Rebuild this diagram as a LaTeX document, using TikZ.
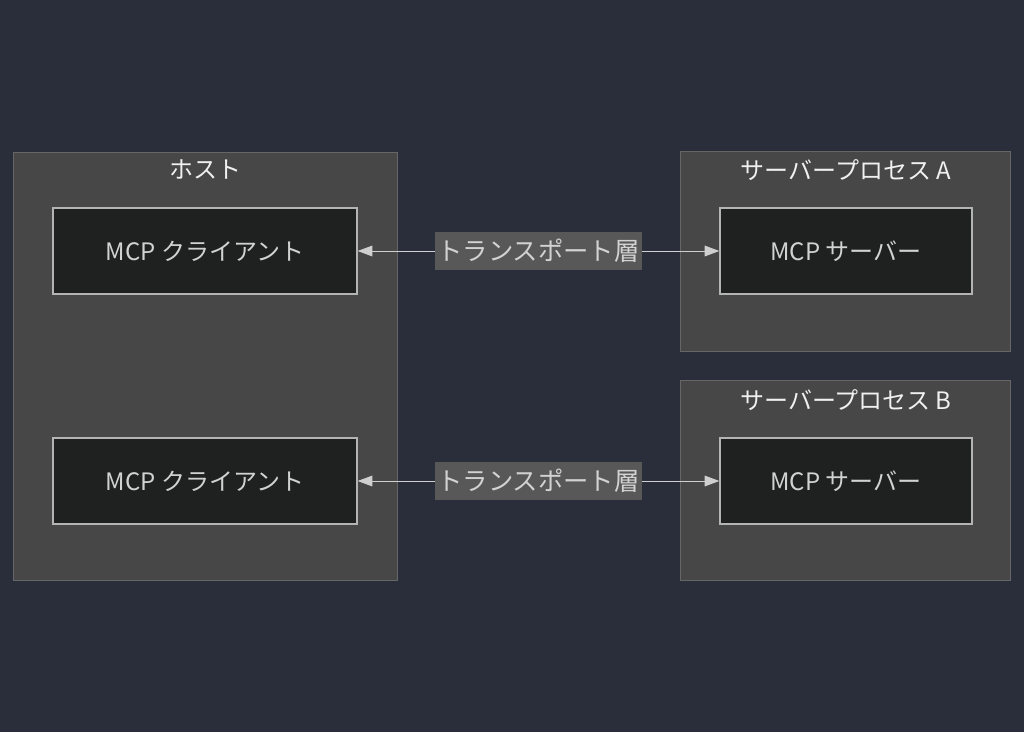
\documentclass[tikz,border=0pt]{standalone}
\usepackage{fontspec}
\setmainfont{Noto Sans CJK JP}
\usepackage{xcolor}
\usetikzlibrary{arrows.meta,positioning}

\definecolor{bgcol}{HTML}{2A2E3B}
\definecolor{grpfill}{HTML}{474747}
\definecolor{grpline}{HTML}{666666}
\definecolor{boxfill}{HTML}{1F2020}
\definecolor{boxline}{HTML}{B4B4B4}
\definecolor{boxtext}{HTML}{D2D2D2}
\definecolor{lblfill}{HTML}{585858}
\definecolor{edgecol}{HTML}{CFCFCF}

\begin{document}
\begin{tikzpicture}[x=0.75pt,y=-0.75pt,>={Triangle[length=11pt,width=8pt]},font=\fontsize{18pt}{22pt}\selectfont]
\tikzstyle{grp}=[draw=grpline,fill=grpfill,line width=0.75pt,inner sep=0pt]
\tikzstyle{grptitle}=[text=white!94!black,inner sep=0pt]
\tikzstyle{box}=[draw=boxline,fill=boxfill,text=boxtext,line width=1pt,minimum height=64.5pt,inner sep=0pt]
\tikzstyle{link}=[<->,draw=edgecol,fill=edgecol,line width=0.75pt]
\tikzstyle{lbl}=[fill=lblfill,text=boxtext,font=\fontsize{19pt}{22pt}\selectfont,inner xsep=2pt,inner ysep=0pt,minimum height=28.5pt]
\fill[bgcol] (0,0) rectangle (1024,732);
% groups
\node[grp,minimum width=288pt,minimum height=321pt] (host) at (205,366) {};
\node[grp,minimum width=248pt,minimum height=150pt] (procA) at (845.5,251) {};
\node[grp,minimum width=248pt,minimum height=150pt] (procB) at (845.5,480.5) {};
\node[grptitle] (hostT) at (205,169) {ホスト};
\node[grptitle] (procAT) at (846,170) {サーバープロセス A};
\node[grptitle] (procBT) at (846,400) {サーバープロセス B};
% clients and servers
\node[box,minimum width=228pt] (cli1) at (205,251) {MCP クライアント};
\node[box,minimum width=228pt] (cli2) at (205,481) {MCP クライアント};
\node[box,minimum width=189pt] (srv1) at (846,251) {MCP サーバー};
\node[box,minimum width=189pt] (srv2) at (846,481) {MCP サーバー};
% transport
\draw[link] (cli1) -- node[lbl] (tr1) {トランスポート層} (srv1);
\draw[link] (cli2) -- node[lbl] (tr2) {トランスポート層} (srv2);
\end{tikzpicture}
\end{document}
